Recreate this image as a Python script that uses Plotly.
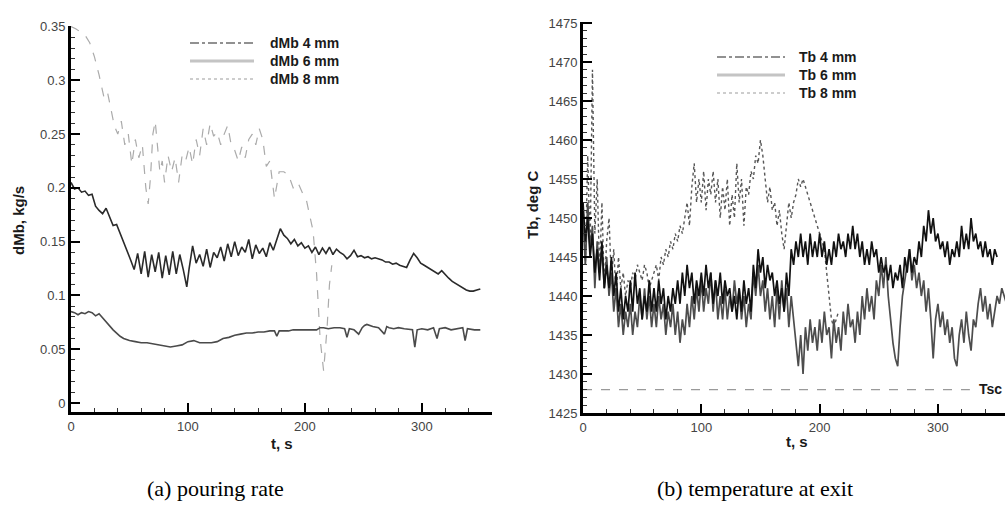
import numpy as np
import plotly.graph_objects as go

W, H = 1005, 507

# ---------------- Left panel: pouring rate dMb (kg/s) ----------------
t_8mm_left = [0,4,8,12,16,20,24,28,31,34,37,40,43,46,49,52,55,58,61,64,66,68,70,72,74,76,78,80,83,86,89,92,95,98,101,104,107,110,113,116,119,122,125,128,131,134,137,140,143,146,149,152,155,158,161,164,167,170,174,178,182,186,190,194,198,201,204,207,210,213,216,219,221,223]
dmb_8mm = [0.35,0.348,0.345,0.342,0.335,0.322,0.305,0.285,0.29,0.275,0.258,0.25,0.262,0.24,0.25,0.222,0.245,0.228,0.24,0.2,0.185,0.21,0.25,0.262,0.24,0.215,0.225,0.205,0.23,0.215,0.228,0.205,0.23,0.225,0.238,0.222,0.245,0.23,0.255,0.24,0.26,0.248,0.252,0.24,0.25,0.258,0.24,0.235,0.225,0.238,0.228,0.245,0.25,0.24,0.255,0.245,0.22,0.225,0.19,0.215,0.215,0.212,0.2,0.205,0.195,0.19,0.175,0.16,0.12,0.06,0.03,0.07,0.11,0.128]

t_6mm_left = [0,3,6,9,12,15,18,21,24,27,30,33,36,39,42,45,48,51,54,57,60,63,66,69,72,75,78,81,84,87,90,93,96,99,101,104,107,110,113,116,119,122,125,128,131,134,137,140,143,146,149,152,155,158,161,164,167,170,173,176,179,182,185,188,191,194,197,200,
              203,206,209,212,215,218,221,224,227,230,233,236,239,242,245,248,251,254,257,260,263,266,269,272,275,278,281,284,287,290,293,296,299,302,305,308,311,314,317,320,323,326,329,332,335,338,341,344,347,350]
dmb_6mm = [0.205,0.199,0.2,0.196,0.197,0.193,0.194,0.183,0.179,0.176,0.181,0.172,0.165,0.166,0.158,0.15,0.142,0.133,0.124,0.139,0.12,0.141,0.117,0.138,0.122,0.14,0.116,0.137,0.119,0.141,0.12,0.138,0.124,0.108,0.125,0.146,0.13,0.138,0.127,0.143,0.126,0.14,0.135,0.145,0.132,0.148,0.136,0.15,0.137,0.145,0.14,0.152,0.134,0.147,0.139,0.144,0.136,0.149,0.142,0.152,0.162,0.156,0.153,0.148,0.152,0.146,0.149,0.144,
           0.146,0.14,0.145,0.138,0.144,0.139,0.145,0.138,0.143,0.14,0.138,0.134,0.137,0.142,0.136,0.137,0.135,0.136,0.134,0.135,0.134,0.133,0.131,0.131,0.129,0.13,0.128,0.127,0.126,0.133,0.139,0.135,0.13,0.128,0.126,0.124,0.122,0.12,0.123,0.119,0.116,0.113,0.111,0.109,0.107,0.105,0.104,0.104,0.105,0.106]

t_4mm_left = [0,3,6,9,12,15,18,21,24,27,30,33,36,39,42,45,50,55,60,65,70,75,80,85,90,95,100,105,110,115,120,125,130,135,140,145,150,155,160,165,170,174,176,178,182,186,190,195,200,205,210,213,216,220,225,230,234,236,238,242,246,249,251,253,258,263,268,270,272,276,280,285,292,294,296,300,305,310,313,315,320,325,330,335,337,339,345,350]
dmb_4mm = [0.085,0.084,0.082,0.084,0.083,0.085,0.084,0.081,0.083,0.079,0.076,0.072,0.068,0.065,0.062,0.06,0.058,0.057,0.056,0.056,0.055,0.054,0.053,0.052,0.053,0.054,0.057,0.058,0.056,0.056,0.056,0.057,0.06,0.061,0.063,0.064,0.065,0.065,0.066,0.066,0.067,0.067,0.062,0.067,0.067,0.067,0.068,0.068,0.068,0.068,0.068,0.07,0.07,0.069,0.07,0.07,0.069,0.061,0.069,0.068,0.064,0.07,0.072,0.073,0.071,0.07,0.064,0.071,0.07,0.069,0.07,0.069,0.068,0.052,0.068,0.069,0.068,0.07,0.06,0.069,0.07,0.068,0.069,0.07,0.058,0.069,0.068,0.068]

left_yticks = [0, 0.05, 0.1, 0.15, 0.2, 0.25, 0.3, 0.35]
left_yticktext = ["0", "0.05", "0.1", "0.15", "0.2", "0.25", "0.3", "0.35"]

# ---------------- Right panel: exit temperature Tb (deg C), sampled every 2 s ----------------
t_tb_6mm = np.arange(0, 360, 2)
tb_6mm = [1450,1444,1452,1446,1449,1441,1447,1443,1446,1441,
          1445,1440,1443,1438,1441,1436,1439,1435,1438,1436,
          1439,1435,1438,1436,1440,1437,1441,1437,1440,1436,
          1439,1436,1440,1437,1439,1435,1438,1436,1439,1435,
          1438,1434,1437,1435,1439,1436,1440,1437,1441,1438,
          1442,1438,1441,1439,1443,1438,1442,1437,1440,1437,
          1441,1437,1440,1438,1442,1439,1441,1437,1440,1436,
          1439,1437,1443,1440,1444,1440,1442,1438,1441,1437,
          1440,1436,1441,1437,1442,1438,1441,1436,1440,1437,
          1434,1431,1435,1430,1436,1433,1437,1434,1436,1433,
          1437,1434,1438,1435,1436,1432,1437,1434,1436,1433,
          1438,1435,1439,1436,1437,1434,1438,1435,1440,1437,
          1441,1438,1440,1437,1442,1440,1444,1441,1445,1440,
          1437,1434,1432,1431,1436,1440,1442,1444,1446,1442,
          1444,1441,1443,1440,1442,1438,1441,1437,1432,1437,
          1439,1436,1438,1435,1437,1434,1436,1432,1431,1435,
          1437,1434,1438,1435,1433,1437,1436,1439,1441,1438,
          1440,1437,1439,1436,1438,1440,1439,1441,1440,1439]

t_tb_4mm = np.arange(0, 352, 2)
tb_4mm = [1452,1447,1450,1445,1448,1443,1446,1442,1447,1441,
          1444,1441,1445,1440,1443,1438,1441,1437,1440,1438,
          1442,1438,1443,1439,1441,1437,1440,1438,1442,1438,
          1441,1438,1442,1439,1441,1437,1440,1438,1441,1439,
          1442,1439,1443,1440,1444,1441,1443,1439,1442,1440,
          1443,1440,1444,1441,1443,1439,1442,1440,1443,1439,
          1442,1440,1441,1438,1440,1437,1441,1438,1442,1439,
          1441,1438,1444,1441,1446,1443,1445,1441,1444,1442,
          1443,1440,1442,1439,1441,1438,1443,1440,1446,1444,
          1447,1445,1448,1445,1447,1444,1448,1445,1447,1445,
          1448,1445,1447,1444,1446,1444,1447,1445,1448,1446,
          1447,1445,1448,1446,1449,1446,1448,1445,1447,1444,
          1446,1444,1447,1445,1446,1443,1445,1443,1444,1442,
          1444,1441,1443,1442,1444,1441,1445,1443,1446,1443,
          1445,1444,1447,1445,1449,1447,1451,1448,1450,1447,
          1448,1446,1447,1445,1447,1444,1446,1445,1447,1445,
          1449,1446,1448,1446,1450,1447,1448,1446,1447,1445,
          1447,1445,1446,1444,1446,1445]

t_tb_8mm = np.arange(0, 218, 2)
tb_8mm = [1452,1444,1458,1446,1469,1448,1455,1443,1452,1441,1447,
          1450,1442,1446,1440,1445,1441,1443,1440,1442,
          1441,1443,1442,1444,1443,1442,1444,1443,1441,1442,
          1443,1444,1442,1445,1444,1446,1445,1447,1446,1448,
          1447,1449,1448,1450,1452,1449,1454,1457,1452,1455,
          1452,1456,1451,1455,1453,1456,1452,1455,1450,1454,
          1451,1455,1449,1453,1450,1457,1452,1455,1449,1454,
          1453,1456,1455,1458,1457,1460,1458,1455,1452,1454,
          1451,1452,1449,1451,1448,1446,1449,1452,1450,1452,
          1453,1455,1454,1455,1454,1453,1452,1451,1450,1449,
          1448,1447,1446,1443,1440,1437,1436,1437,1438]

t_tsc = [0, 327]
tsc = [1428, 1428]

for a, b in [(t_8mm_left, dmb_8mm), (t_6mm_left, dmb_6mm), (t_4mm_left, dmb_4mm),
             (t_tb_6mm, tb_6mm), (t_tb_4mm, tb_4mm), (t_tb_8mm, tb_8mm)]:
    assert len(a) == len(b), (len(a), len(b))

legend_left = ["dMb 4 mm", "dMb 6 mm", "dMb 8 mm"]
legend_right = ["Tb 4 mm", "Tb 6 mm", "Tb 8 mm"]


def px(x):
    return x / W


def py(y):
    return 1 - y / H


fig = go.Figure()

# left panel
fig.add_trace(go.Scatter(x=t_8mm_left, y=dmb_8mm, mode="lines", xaxis="x", yaxis="y",
                         line=dict(color="#ababab", width=1.2, dash="dash"), showlegend=False))
fig.add_trace(go.Scatter(x=t_6mm_left, y=dmb_6mm, mode="lines", xaxis="x", yaxis="y",
                         line=dict(color="#2a2a2a", width=1.6), showlegend=False))
fig.add_trace(go.Scatter(x=t_4mm_left, y=dmb_4mm, mode="lines", xaxis="x", yaxis="y",
                         line=dict(color="#4a4a4a", width=1.6), showlegend=False))

# right panel
fig.add_trace(go.Scatter(x=t_tsc, y=tsc, mode="lines", xaxis="x2", yaxis="y2",
                         line=dict(color="#9a9a9a", width=1.4, dash="dash"), showlegend=False))
fig.add_trace(go.Scatter(x=t_tb_8mm, y=tb_8mm, mode="lines", xaxis="x2", yaxis="y2",
                         line=dict(color="#575757", width=1.4, dash="dot"), showlegend=False))
fig.add_trace(go.Scatter(x=t_tb_6mm, y=tb_6mm, mode="lines", xaxis="x2", yaxis="y2",
                         line=dict(color="#4d4d4d", width=1.7), showlegend=False))
fig.add_trace(go.Scatter(x=t_tb_4mm, y=tb_4mm, mode="lines", xaxis="x2", yaxis="y2",
                         line=dict(color="#111111", width=1.7), showlegend=False))

tickfont = dict(family="Arial, Liberation Sans, sans-serif", size=13, color="#444444")
axis_common = dict(showline=True, linecolor="black", linewidth=3, ticks="inside", ticklen=9,
                   tickwidth=2, tickcolor="black", showgrid=False, zeroline=False,
                   tickfont=tickfont, mirror=False, automargin=False)

fig.update_layout(
    width=W, height=H, margin=dict(l=0, r=0, t=0, b=0, autoexpand=False),
    paper_bgcolor="white", plot_bgcolor="white", showlegend=False,
    xaxis=dict(domain=[px(71), px(492)], range=[0, 360], anchor="y",
               tickvals=[0, 100, 200, 300],
               minor=dict(ticks="inside", ticklen=4, tickwidth=1, tickcolor="#333", dtick=20),
               **axis_common),
    yaxis=dict(domain=[py(412), py(26)], range=[-0.0084, 0.3505], anchor="x",
               tickvals=left_yticks, ticktext=left_yticktext,
               minor=dict(ticks="inside", ticklen=4, tickwidth=1, tickcolor="#333", dtick=0.01, tick0=0),
               **axis_common),
    xaxis2=dict(domain=[px(583), 1.0], range=[0, 356.7], anchor="y2",
                tickvals=[0, 100, 200, 300],
                minor=dict(ticks="inside", ticklen=4, tickwidth=1, tickcolor="#333", dtick=20),
                **axis_common),
    yaxis2=dict(domain=[py(413), py(22)], range=[1425, 1475.13], anchor="x2",
                tickvals=[1425, 1430, 1435, 1440, 1445, 1450, 1455, 1460, 1465, 1470, 1475],
                minor=dict(ticks="inside", ticklen=4, tickwidth=1, tickcolor="#333", dtick=1, tick0=1425),
                **axis_common),
)

# legend samples (drawn as shapes) and legend texts
leg_styles = [dict(color="#6e6e6e", width=1.6, dash="dashdot"),
              dict(color="#c4c4c4", width=3, dash="solid"),
              dict(color="#bdbdbd", width=1.6, dash="dot")]
bold = dict(family="Arial, Liberation Sans, sans-serif", size=14, color="#1a1a1a")
ann = []
shapes = []
for i, (name, ypix) in enumerate(zip(legend_left, [43, 61, 79])):
    shapes.append(dict(type="line", xref="paper", yref="paper", x0=px(190), x1=px(254),
                       y0=py(ypix), y1=py(ypix), line=leg_styles[i]))
    ann.append(dict(text="<b>%s</b>" % name, x=px(268), y=py(ypix), xref="paper", yref="paper",
                    xanchor="left", yanchor="middle", showarrow=False, font=bold))
for i, (name, ypix) in enumerate(zip(legend_right, [57, 75, 93])):
    shapes.append(dict(type="line", xref="paper", yref="paper", x0=px(717), x1=px(785),
                       y0=py(ypix), y1=py(ypix), line=leg_styles[i]))
    ann.append(dict(text="<b>%s</b>" % name, x=px(797), y=py(ypix), xref="paper", yref="paper",
                    xanchor="left", yanchor="middle", showarrow=False, font=bold))

title_font = dict(family="Arial, Liberation Sans, sans-serif", size=15, color="#1a1a1a")
ann += [
    dict(text="<b>dMb, kg/s</b>", x=px(18), y=py(221), xref="paper", yref="paper", textangle=-90,
         showarrow=False, font=title_font, xanchor="center", yanchor="middle"),
    dict(text="<b>Tb, deg C</b>", x=px(532), y=py(205), xref="paper", yref="paper", textangle=-90,
         showarrow=False, font=title_font, xanchor="center", yanchor="middle"),
    dict(text="<b>t, s</b>", x=px(282), y=py(443), xref="paper", yref="paper",
         showarrow=False, font=title_font, xanchor="center", yanchor="middle"),
    dict(text="<b>t, s</b>", x=px(797), y=py(441), xref="paper", yref="paper",
         showarrow=False, font=title_font, xanchor="center", yanchor="middle"),
    dict(text="<b>Tsc</b>", x=px(977), y=py(389), xref="paper", yref="paper",
         showarrow=False, font=dict(family="Arial, Liberation Sans, sans-serif", size=14, color="#1a1a1a"),
         xanchor="left", yanchor="middle"),
    dict(text="(a) pouring rate", x=px(215), y=py(488), xref="paper", yref="paper",
         showarrow=False, font=dict(family="Liberation Serif, Times New Roman, serif", size=22, color="black"),
         xanchor="center", yanchor="middle"),
    dict(text="(b) temperature at exit", x=px(755), y=py(488), xref="paper", yref="paper",
         showarrow=False, font=dict(family="Liberation Serif, Times New Roman, serif", size=22, color="black"),
         xanchor="center", yanchor="middle"),
]
fig.update_layout(annotations=ann, shapes=shapes)

fig.write_html("out.html", config={"displayModeBar": False},
               post_script="document.body.style.margin='0px';document.body.style.overflow='hidden';")
